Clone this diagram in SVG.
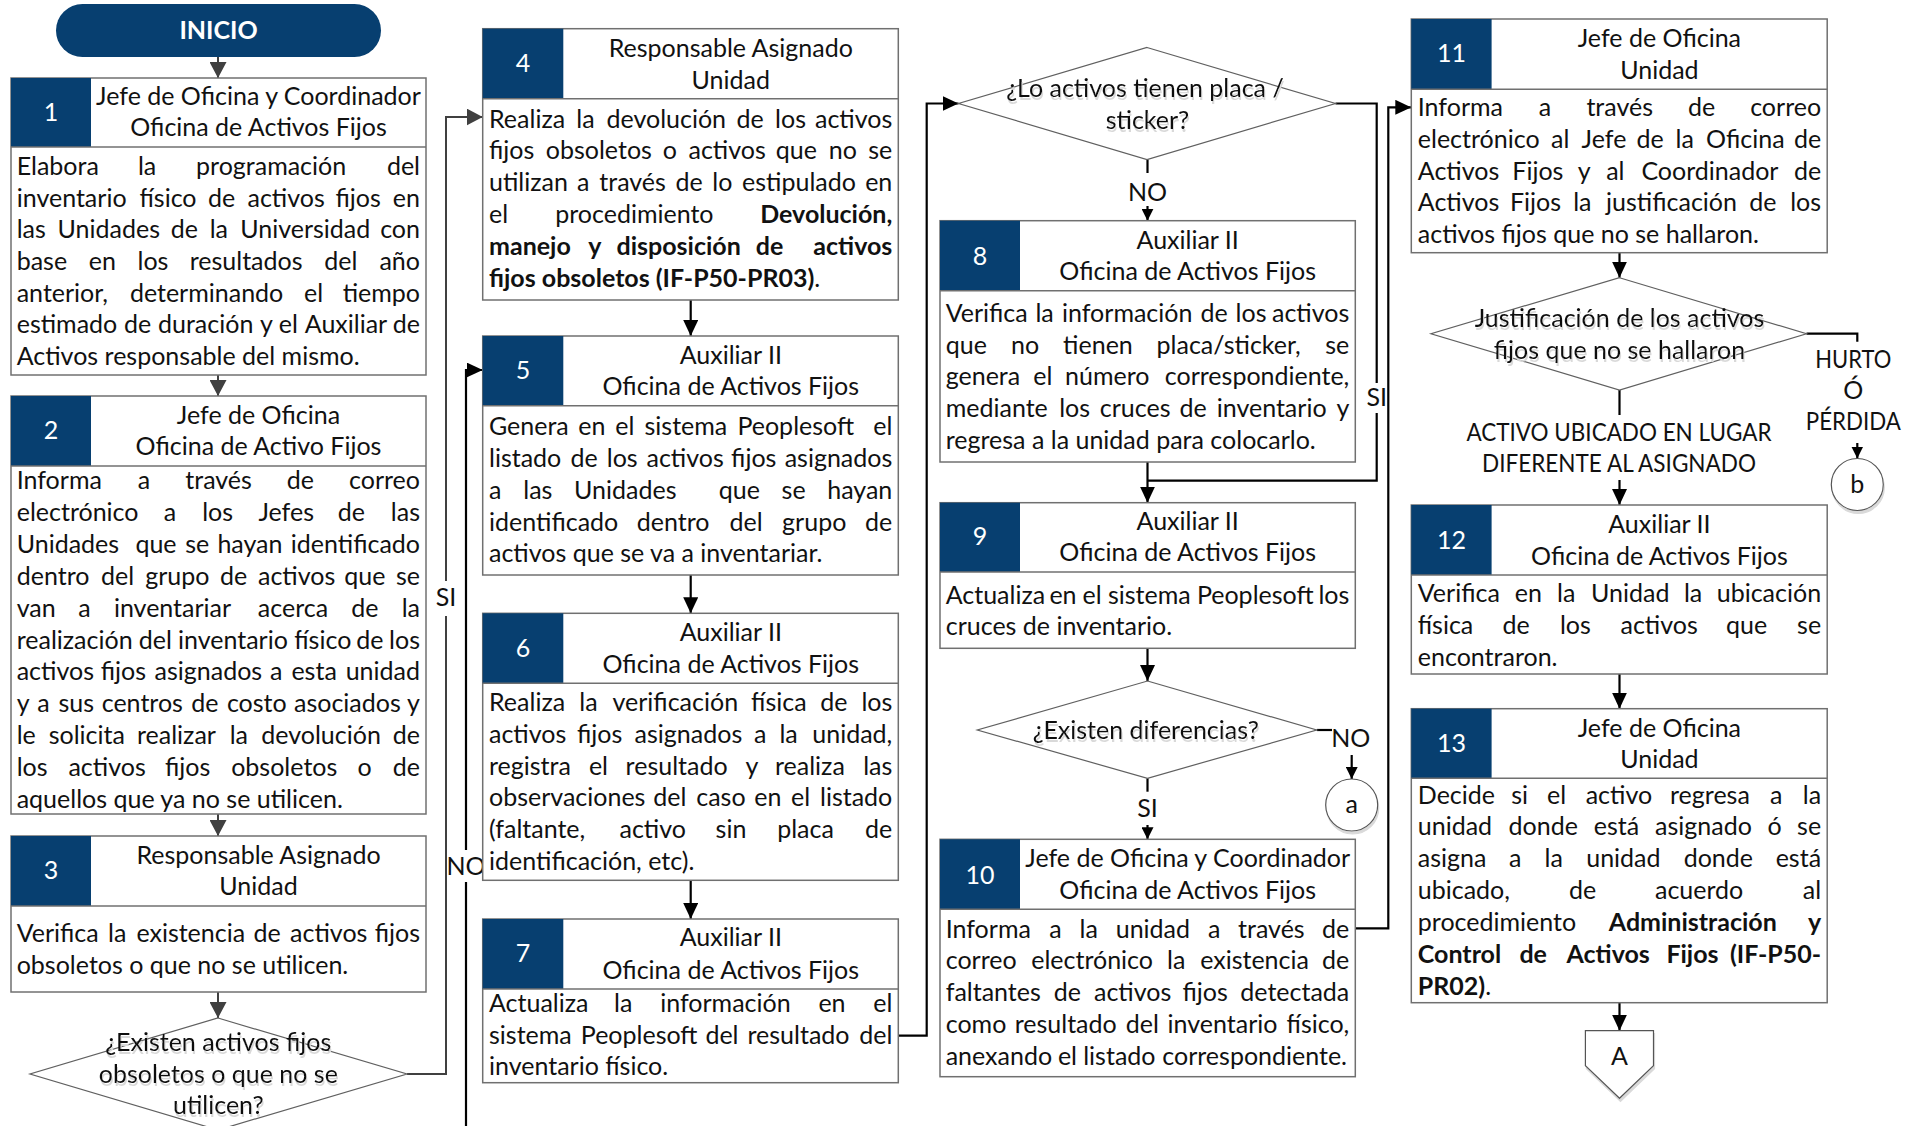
<svg xmlns="http://www.w3.org/2000/svg" width="1921" height="1126" viewBox="0 0 1921 1126">
<defs>
<style>
.bx{fill:#fff;stroke:#707070;stroke-width:1.5}
.nc{fill:#073f70}
.dv{stroke:#707070;stroke-width:1.5;fill:none}
.dm{fill:#fff;stroke:#606060;stroke-width:1.2}
.t{font-family:Lato,"Liberation Sans",sans-serif;font-size:25px;fill:#111}
.h{text-anchor:middle}
.n{fill:#fff;text-anchor:middle}
.e{text-anchor:end}
.bd{font-weight:bold}
.cn{fill:none;stroke:#000;stroke-width:2.2}
.cg{fill:none;stroke:#404040;stroke-width:2}
</style>
<marker id="ab" viewBox="0 0 10 10" refX="10" refY="5" markerWidth="16" markerHeight="15" markerUnits="userSpaceOnUse" orient="auto" preserveAspectRatio="none"><path d="M0,0L10,5L0,10z" fill="#000"/></marker>
<marker id="as" viewBox="0 0 10 10" refX="10" refY="5" markerWidth="12" markerHeight="12" markerUnits="userSpaceOnUse" orient="auto" preserveAspectRatio="none"><path d="M0,0L10,5L0,10z" fill="#000"/></marker>
<marker id="ag" viewBox="0 0 10 10" refX="10" refY="5" markerWidth="16" markerHeight="17" markerUnits="userSpaceOnUse" orient="auto" preserveAspectRatio="none"><path d="M0,0L10,5L0,10z" fill="#404040"/></marker>
<filter id="sh" x="-10%" y="-20%" width="120%" height="160%"><feOffset in="SourceAlpha" dx="1" dy="3" result="o"/><feFlood flood-color="#d9d9d9"/><feComposite in2="o" operator="in" result="s"/><feMerge><feMergeNode in="s"/><feMergeNode in="SourceGraphic"/></feMerge></filter>
</defs>
<rect width="1921" height="1126" fill="#fff"/>

<g id="connectors">
<path class="cg" d="M218,57V78" marker-end="url(#ag)"/>
<path class="cg" d="M218,375V396" marker-end="url(#ag)"/>
<path class="cg" d="M218,814V836" marker-end="url(#ag)"/>
<path class="cg" d="M218,992V1018" marker-end="url(#ag)"/>
<path class="cg" d="M407,1074H446V616"/>
<path class="cg" d="M446,581V117H482.7" marker-end="url(#ag)"/>
<path class="cn" d="M466,1126V882"/>
<path class="cn" d="M466,850V370H482.7" marker-end="url(#ab)"/>
<path class="cn" d="M690.7,300V336" marker-end="url(#ab)"/>
<path class="cn" d="M690.7,575V613.3" marker-end="url(#ab)"/>
<path class="cn" d="M690.7,880.3V919" marker-end="url(#ab)"/>
<path class="cn" d="M898.3,1035.7H926.7V103.5H958.5" marker-end="url(#ab)"/>
<path class="cn" d="M1147.5,159.5V173"/>
<path class="cn" d="M1147.5,206V220.7" marker-end="url(#as)"/>
<path class="cn" d="M1335.5,103.5H1376.7V383"/>
<path class="cn" d="M1376.7,413V480.7H1147.5"/>
<path class="cn" d="M1147.5,462V502.7" marker-end="url(#ab)"/>
<path class="cn" d="M1147.5,648.3V681" marker-end="url(#ab)"/>
<path class="cn" d="M1316.7,730H1332"/>
<path class="cn" d="M1351.7,755V779" marker-end="url(#as)"/>
<path class="cn" d="M1147.5,778.3V791.7"/>
<path class="cn" d="M1147.5,825V839.3" marker-end="url(#as)"/>
<path class="cn" d="M1355.3,928.3H1388.3V107.3H1411.3" marker-end="url(#ab)"/>
<path class="cn" d="M1619.5,252.7V277.7" marker-end="url(#ab)"/>
<path class="cn" d="M1806.5,333.7H1857.3V341.7"/>
<path class="cn" d="M1857.3,443V458.5" marker-end="url(#as)"/>
<path class="cn" d="M1619.5,390V415"/>
<path class="cn" d="M1619.5,480V505" marker-end="url(#ab)"/>
<path class="cn" d="M1619.5,674V708.7" marker-end="url(#ab)"/>
<path class="cn" d="M1619.5,1002.7V1030.7" marker-end="url(#ab)"/>
<g id="labels" class="t">
<text class="h" x="446" y="606">SI</text>
<text class="h" x="466" y="875">NO</text>
<text class="h" x="1147.5" y="200.5">NO</text>
<text class="h" x="1376.7" y="406">SI</text>
<text class="h" x="1350.8" y="747">NO</text>
<text class="h" x="1147.5" y="817">SI</text>
<text class="h" x="1853.3" y="367.5" textLength="76" lengthAdjust="spacingAndGlyphs">HURTO</text>
<text class="h" x="1853.3" y="398.5">Ó</text>
<text class="h" x="1853.3" y="430" textLength="95" lengthAdjust="spacingAndGlyphs">PÉRDIDA</text>
<text class="h" x="1619" y="440.5" textLength="305" lengthAdjust="spacingAndGlyphs">ACTIVO UBICADO EN LUGAR</text>
<text class="h" x="1619" y="471.5" textLength="274" lengthAdjust="spacingAndGlyphs">DIFERENTE AL ASIGNADO</text>
</g>
</g>

<g id="inicio">
<rect x="56" y="4" width="325" height="53" rx="26.5" fill="#073f70"/>
<text class="t n bd" x="218.5" y="39">INICIO</text>
</g>

<g id="n1" class="t">
<rect class="bx" x="11" y="78" width="415" height="297"/>
<rect class="nc" x="11" y="78" width="80" height="69"/>
<path class="dv" d="M11,147H426"/>
<text class="n" x="51" y="121">1</text>
<text class="h" x="258.5" y="105">Jefe de Oficina y Coordinador</text>
<text class="h" x="258.5" y="136">Oficina de Activos Fijos</text>
<text y="175"><tspan x="16.7">Elabora</tspan><tspan x="137.9">la</tspan><tspan x="196.1">programación</tspan><tspan class="e" x="420">del</tspan></text>
<text y="206.7"><tspan x="16.7">inventario</tspan><tspan x="139.5">físico</tspan><tspan x="207.9">de</tspan><tspan x="247.5">activos</tspan><tspan x="335.4">fijos</tspan><tspan class="e" x="420">en</tspan></text>
<text y="238.3"><tspan x="16.7">las</tspan><tspan x="57.6">Unidades</tspan><tspan x="170.8">de</tspan><tspan x="209.7">la</tspan><tspan x="240.2">Universidad</tspan><tspan class="e" x="420">con</tspan></text>
<text y="270"><tspan x="16.7">base</tspan><tspan x="88.7">en</tspan><tspan x="137.5">los</tspan><tspan x="189.7">resultados</tspan><tspan x="324.3">del</tspan><tspan class="e" x="420">año</tspan></text>
<text y="301.7"><tspan x="16.7">anterior,</tspan><tspan x="129.9">determinando</tspan><tspan x="304.1">el</tspan><tspan class="e" x="420">tiempo</tspan></text>
<text y="333.3"><tspan x="16.7">estimado</tspan><tspan x="124">de</tspan><tspan x="158">duración</tspan><tspan x="260">y</tspan><tspan x="278.8">el</tspan><tspan x="304.8">Auxiliar</tspan><tspan class="e" x="420">de</tspan></text>
<text x="16.7" y="365">Activos responsable del mismo.</text>
</g>

<g id="n2" class="t">
<rect class="bx" x="11" y="396" width="415" height="418"/>
<rect class="nc" x="11" y="396" width="80" height="70"/>
<path class="dv" d="M11,466H426"/>
<text class="n" x="51" y="438.5">2</text>
<text class="h" x="258.5" y="423.5">Jefe de Oficina</text>
<text class="h" x="258.5" y="455.2">Oficina de Activo Fijos</text>
<text y="489.2"><tspan x="16.7">Informa</tspan><tspan x="137.7">a</tspan><tspan x="185.3">través</tspan><tspan x="286.8">de</tspan><tspan class="e" x="420">correo</tspan></text>
<text y="521"><tspan x="16.7">electrónico</tspan><tspan x="163.8">a</tspan><tspan x="202.2">los</tspan><tspan x="258.4">Jefes</tspan><tspan x="337.7">de</tspan><tspan class="e" x="420">las</tspan></text>
<text y="552.9"><tspan x="16.7">Unidades</tspan><tspan x="135.4">que</tspan><tspan x="185.2">se</tspan><tspan x="217.4">hayan</tspan><tspan class="e" x="420">identificado</tspan></text>
<text y="584.8"><tspan x="16.7">dentro</tspan><tspan x="101">del</tspan><tspan x="145.2">grupo</tspan><tspan x="219.9">de</tspan><tspan x="258">activos</tspan><tspan x="344.3">que</tspan><tspan class="e" x="420">se</tspan></text>
<text y="616.6"><tspan x="16.7">van</tspan><tspan x="78.3">a</tspan><tspan x="113.9">inventariar</tspan><tspan x="257.8">acerca</tspan><tspan x="351.2">de</tspan><tspan class="e" x="420">la</tspan></text>
<text y="648.5"><tspan x="16.7">realización</tspan><tspan x="138.7">del</tspan><tspan x="178">inventario</tspan><tspan x="294.3">físico</tspan><tspan x="356.3">de</tspan><tspan class="e" x="420">los</tspan></text>
<text y="680.3"><tspan x="16.7">activos</tspan><tspan x="100.8">fijos</tspan><tspan x="154.5">asignados</tspan><tspan x="270">a</tspan><tspan x="291.4">esta</tspan><tspan class="e" x="420">unidad</tspan></text>
<text y="712.2"><tspan x="16.7">y</tspan><tspan x="37.2">a</tspan><tspan x="58.4">sus</tspan><tspan x="101.7">centros</tspan><tspan x="191.2">de</tspan><tspan x="226.9">costo</tspan><tspan x="294">asociados</tspan><tspan class="e" x="420">y</tspan></text>
<text y="744"><tspan x="16.7">le</tspan><tspan x="48.7">solicita</tspan><tspan x="137">realizar</tspan><tspan x="229.7">la</tspan><tspan x="261.3">devolución</tspan><tspan class="e" x="420">de</tspan></text>
<text y="775.9"><tspan x="16.7">los</tspan><tspan x="68.4">activos</tspan><tspan x="165">fijos</tspan><tspan x="231.2">obsoletos</tspan><tspan x="357.5">o</tspan><tspan class="e" x="420">de</tspan></text>
<text x="16.7" y="807.7">aquellos que ya no se utilicen.</text>
</g>

<g id="n3" class="t">
<rect class="bx" x="11" y="836" width="415" height="156"/>
<rect class="nc" x="11" y="836" width="80" height="70"/>
<path class="dv" d="M11,906H426"/>
<text class="n" x="51" y="878.5">3</text>
<text class="h" x="258.5" y="863.5">Responsable Asignado</text>
<text class="h" x="258.5" y="895.2">Unidad</text>
<text y="941.8"><tspan x="16.7">Verifica</tspan><tspan x="108.1">la</tspan><tspan x="136.4">existencia</tspan><tspan x="253.4">de</tspan><tspan x="290.1">activos</tspan><tspan class="e" x="420">fijos</tspan></text>
<text x="16.7" y="973.5">obsoletos o que no se utilicen.</text>
</g>

<g id="d1">
<path class="dm" d="M218,1018L407,1074L218,1130L30,1074Z"/>
<g class="t" filter="url(#sh)">
<text class="h" x="218.3" y="1050.5">¿Existen activos fijos</text>
<text class="h" x="218.3" y="1082.5">obsoletos o que no se</text>
<text class="h" x="218.3" y="1113.5">utilicen?</text>
</g>
</g>

<g id="n4" class="t">
<rect class="bx" x="482.7" y="28.7" width="415.6" height="271.3"/>
<rect class="nc" x="482.7" y="28.7" width="80.6" height="70"/>
<path class="dv" d="M482.7,98.7H898.3"/>
<text class="n" x="523" y="71.8">4</text>
<text class="h" x="730.8" y="56.8">Responsable Asignado</text>
<text class="h" x="730.8" y="88.5">Unidad</text>
<text y="127.5"><tspan x="489">Realiza</tspan><tspan x="576.3">la</tspan><tspan x="606.5">devolución</tspan><tspan x="736.5">de</tspan><tspan x="775.1">los</tspan><tspan class="e" x="892.3">activos</tspan></text>
<text y="159.4"><tspan x="489">fijos</tspan><tspan x="545.8">obsoletos</tspan><tspan x="662.7">o</tspan><tspan x="688.5">activos</tspan><tspan x="775.8">que</tspan><tspan x="828.8">no</tspan><tspan class="e" x="892.3">se</tspan></text>
<text y="191.3"><tspan x="489">utilizan</tspan><tspan x="577">a</tspan><tspan x="599.3">través</tspan><tspan x="675.5">de</tspan><tspan x="712.3">lo</tspan><tspan x="742">estipulado</tspan><tspan class="e" x="892.3">en</tspan></text>
<text y="223.2"><tspan x="489">el</tspan><tspan x="555.2">procedimiento</tspan><tspan class="e bd" x="892.3">Devolución,</tspan></text>
<text class="bd" y="255.1"><tspan x="489">manejo</tspan><tspan x="588.2">y</tspan><tspan x="616.5">disposición</tspan><tspan x="755.7">de</tspan><tspan class="e" x="892.3">activos</tspan></text>
<text x="489" y="287"><tspan class="bd">fijos obsoletos (IF-P50-PR03)</tspan>.</text>
</g>

<g id="n5" class="t">
<rect class="bx" x="482.7" y="336" width="415.6" height="239"/>
<rect class="nc" x="482.7" y="336" width="80.6" height="69.7"/>
<path class="dv" d="M482.7,405.7H898.3"/>
<text class="n" x="523" y="378.5">5</text>
<text class="h" x="730.8" y="363.5">Auxiliar II</text>
<text class="h" x="730.8" y="395.2">Oficina de Activos Fijos</text>
<text y="435.2"><tspan x="489">Genera</tspan><tspan x="578.2">en</tspan><tspan x="615.3">el</tspan><tspan x="644.5">sistema</tspan><tspan x="737.4">Peoplesoft</tspan><tspan class="e" x="892.3">el</tspan></text>
<text y="467"><tspan x="489">listado</tspan><tspan x="570.4">de</tspan><tspan x="606.8">los</tspan><tspan x="646.5">activos</tspan><tspan x="731.1">fijos</tspan><tspan class="e" x="892.3">asignados</tspan></text>
<text y="498.8"><tspan x="489">a</tspan><tspan x="523.3">las</tspan><tspan x="574.1">Unidades</tspan><tspan x="718.8">que</tspan><tspan x="781.6">se</tspan><tspan class="e" x="892.3">hayan</tspan></text>
<text y="530.6"><tspan x="489">identificado</tspan><tspan x="636.8">dentro</tspan><tspan x="729.5">del</tspan><tspan x="782.1">grupo</tspan><tspan class="e" x="892.3">de</tspan></text>
<text x="489" y="562.4">activos que se va a inventariar.</text>
</g>

<g id="n6" class="t">
<rect class="bx" x="482.7" y="613.3" width="415.6" height="267"/>
<rect class="nc" x="482.7" y="613.3" width="80.6" height="70"/>
<path class="dv" d="M482.7,683.3H898.3"/>
<text class="n" x="523" y="656.8">6</text>
<text class="h" x="730.8" y="640.8">Auxiliar II</text>
<text class="h" x="730.8" y="672.5">Oficina de Activos Fijos</text>
<text y="710.8"><tspan x="489">Realiza</tspan><tspan x="579.3">la</tspan><tspan x="612.5">verificación</tspan><tspan x="751.1">física</tspan><tspan x="820.2">de</tspan><tspan class="e" x="892.3">los</tspan></text>
<text y="742.6"><tspan x="489">activos</tspan><tspan x="577">fijos</tspan><tspan x="634.6">asignados</tspan><tspan x="754.1">a</tspan><tspan x="779.4">la</tspan><tspan class="e" x="892.3">unidad,</tspan></text>
<text y="774.5"><tspan x="489">registra</tspan><tspan x="588.9">el</tspan><tspan x="625.6">resultado</tspan><tspan x="745.6">y</tspan><tspan x="775">realiza</tspan><tspan class="e" x="892.3">las</tspan></text>
<text y="806.3"><tspan x="489">observaciones</tspan><tspan x="653.3">del</tspan><tspan x="696.2">caso</tspan><tspan x="754.2">en</tspan><tspan x="791">el</tspan><tspan class="e" x="892.3">listado</tspan></text>
<text y="838.2"><tspan x="489">(faltante,</tspan><tspan x="619.5">activo</tspan><tspan x="715.6">sin</tspan><tspan x="777.2">placa</tspan><tspan class="e" x="892.3">de</tspan></text>
<text x="489" y="870">identificación, etc).</text>
</g>

<g id="n7" class="t">
<rect class="bx" x="482.7" y="919" width="415.6" height="163.7"/>
<rect class="nc" x="482.7" y="919" width="80.6" height="70"/>
<path class="dv" d="M482.7,989H898.3"/>
<text class="n" x="523" y="961.8">7</text>
<text class="h" x="730.8" y="946.2">Auxiliar II</text>
<text class="h" x="730.8" y="978.5">Oficina de Activos Fijos</text>
<text y="1011.8"><tspan x="489">Actualiza</tspan><tspan x="614.1">la</tspan><tspan x="660.2">información</tspan><tspan x="818.4">en</tspan><tspan class="e" x="892.3">el</tspan></text>
<text y="1043.5"><tspan x="489">sistema</tspan><tspan x="580.8">Peoplesoft</tspan><tspan x="705.4">del</tspan><tspan x="747.5">resultado</tspan><tspan class="e" x="892.3">del</tspan></text>
<text x="489" y="1075.2">inventario físico.</text>
</g>

<g id="d2">
<path class="dm" d="M1147,47.5L1335.5,103.5L1147,159.5L958.5,103.5Z"/>
<g class="t" filter="url(#sh)">
<text class="h" x="1145" y="96.5">¿Lo activos tienen placa /</text>
<text class="h" x="1147.5" y="128.5">sticker?</text>
</g>
</g>

<g id="n8" class="t">
<rect class="bx" x="940" y="220.7" width="415.3" height="241.3"/>
<rect class="nc" x="940" y="220.7" width="80" height="70"/>
<path class="dv" d="M940,290.7H1355.3"/>
<text class="n" x="980" y="265.2">8</text>
<text class="h" x="1187.7" y="248.5">Auxiliar II</text>
<text class="h" x="1187.7" y="280.2">Oficina de Activos Fijos</text>
<text y="321.8"><tspan x="945.7">Verifica</tspan><tspan x="1035.4">la</tspan><tspan x="1062">información</tspan><tspan x="1200.6">de</tspan><tspan x="1235.6">los</tspan><tspan class="e" x="1349.3">activos</tspan></text>
<text y="353.5"><tspan x="945.7">que</tspan><tspan x="1011">no</tspan><tspan x="1063.1">tienen</tspan><tspan x="1156.6">placa/sticker,</tspan><tspan class="e" x="1349.3">se</tspan></text>
<text y="385.2"><tspan x="945.7">genera</tspan><tspan x="1033.2">el</tspan><tspan x="1065">número</tspan><tspan class="e" x="1349.3">correspondiente,</tspan></text>
<text y="416.8"><tspan x="945.7">mediante</tspan><tspan x="1059.2">los</tspan><tspan x="1099.8">cruces</tspan><tspan x="1179.4">de</tspan><tspan x="1216.7">inventario</tspan><tspan class="e" x="1349.3">y</tspan></text>
<text x="945.7" y="448.5">regresa a la unidad para colocarlo.</text>
</g>

<g id="n9" class="t">
<rect class="bx" x="940" y="502.7" width="415.3" height="145.6"/>
<rect class="nc" x="940" y="502.7" width="80" height="69.3"/>
<path class="dv" d="M940,572H1355.3"/>
<text class="n" x="980" y="545.2">9</text>
<text class="h" x="1187.7" y="529.5">Auxiliar II</text>
<text class="h" x="1187.7" y="561.2">Oficina de Activos Fijos</text>
<text y="603.5"><tspan x="945.7">Actualiza</tspan><tspan x="1049.4">en</tspan><tspan x="1082.6">el</tspan><tspan x="1107.9">sistema</tspan><tspan x="1196.9">Peoplesoft</tspan><tspan class="e" x="1349.3">los</tspan></text>
<text x="945.7" y="635.3">cruces de inventario.</text>
</g>

<g id="d3">
<path class="dm" d="M1147.5,681L1316.7,730L1147.5,778.3L977.3,730Z"/>
<g class="t" filter="url(#sh)">
<text class="h" x="1145.8" y="739">¿Existen diferencias?</text>
</g>
</g>

<g id="ca">
<circle cx="1351.7" cy="805" r="26" fill="#fff" stroke="#555" stroke-width="1.2" filter="url(#sh)"/>
<text class="t h" x="1351.7" y="813">a</text>
</g>

<g id="n10" class="t">
<rect class="bx" x="940" y="839.3" width="415.3" height="237.4"/>
<rect class="nc" x="940" y="839.3" width="80" height="70"/>
<path class="dv" d="M940,909.3H1355.3"/>
<text class="n" x="980" y="883.5">10</text>
<text class="h" x="1187.7" y="866.8">Jefe de Oficina y Coordinador</text>
<text class="h" x="1187.7" y="899.2">Oficina de Activos Fijos</text>
<text y="937.5"><tspan x="945.7">Informa</tspan><tspan x="1049.3">a</tspan><tspan x="1079.5">la</tspan><tspan x="1115.7">unidad</tspan><tspan x="1207.9">a</tspan><tspan x="1238.1">través</tspan><tspan class="e" x="1349.3">de</tspan></text>
<text y="969.3"><tspan x="945.7">correo</tspan><tspan x="1031.2">electrónico</tspan><tspan x="1167">la</tspan><tspan x="1200.2">existencia</tspan><tspan class="e" x="1349.3">de</tspan></text>
<text y="1001.2"><tspan x="945.7">faltantes</tspan><tspan x="1053.8">de</tspan><tspan x="1094">activos</tspan><tspan x="1182.4">fijos</tspan><tspan class="e" x="1349.3">detectada</tspan></text>
<text y="1033"><tspan x="945.7">como</tspan><tspan x="1014.7">resultado</tspan><tspan x="1125.8">del</tspan><tspan x="1167.6">inventario</tspan><tspan class="e" x="1349.3">físico,</tspan></text>
<text y="1064.9"><tspan x="945.7">anexando</tspan><tspan x="1057.9">el</tspan><tspan x="1083.2">listado</tspan><tspan class="e" x="1347">correspondiente.</tspan></text>
</g>

<g id="n11" class="t">
<rect class="bx" x="1411.3" y="19" width="415.9" height="233.7"/>
<rect class="nc" x="1411.3" y="19" width="80.3" height="70.3"/>
<path class="dv" d="M1411.3,89.3H1827.2"/>
<text class="n" x="1451.5" y="61.8">11</text>
<text class="h" x="1659.4" y="46.8">Jefe de Oficina</text>
<text class="h" x="1659.4" y="78.5">Unidad</text>
<text y="115.8"><tspan x="1417.8">Informa</tspan><tspan x="1538.8">a</tspan><tspan x="1586.4">través</tspan><tspan x="1687.9">de</tspan><tspan class="e" x="1821.1">correo</tspan></text>
<text y="147.6"><tspan x="1417.8">electrónico</tspan><tspan x="1551">al</tspan><tspan x="1581.6">Jefe</tspan><tspan x="1636.5">de</tspan><tspan x="1675.5">la</tspan><tspan x="1706.1">Oficina</tspan><tspan class="e" x="1821.1">de</tspan></text>
<text y="179.5"><tspan x="1417.8">Activos</tspan><tspan x="1512.3">Fijos</tspan><tspan x="1577.8">y</tspan><tspan x="1606.2">al</tspan><tspan x="1641.4">Coordinador</tspan><tspan class="e" x="1821.1">de</tspan></text>
<text y="211.3"><tspan x="1417.8">Activos</tspan><tspan x="1510">Fijos</tspan><tspan x="1573.2">la</tspan><tspan x="1606.1">justificación</tspan><tspan x="1749.3">de</tspan><tspan class="e" x="1821.1">los</tspan></text>
<text x="1417.8" y="243.2">activos fijos que no se hallaron.</text>
</g>

<g id="d4">
<path class="dm" d="M1619.5,277.7L1806.5,333.7L1619.5,390L1431,333.7Z"/>
<g class="t" filter="url(#sh)">
<text class="h" x="1619.5" y="326.5">Justificación de los activos</text>
<text class="h" x="1619.5" y="358.5">fijos que no se hallaron</text>
</g>
</g>

<g id="cb">
<circle cx="1857.3" cy="484.5" r="26" fill="#fff" stroke="#555" stroke-width="1.2" filter="url(#sh)"/>
<text class="t h" x="1857.3" y="493">b</text>
</g>

<g id="n12" class="t">
<rect class="bx" x="1411.3" y="505" width="415.9" height="169"/>
<rect class="nc" x="1411.3" y="505" width="80.3" height="70"/>
<path class="dv" d="M1411.3,575H1827.2"/>
<text class="n" x="1451.5" y="548.5">12</text>
<text class="h" x="1659.4" y="532.8">Auxiliar II</text>
<text class="h" x="1659.4" y="564.5">Oficina de Activos Fijos</text>
<text y="601.8"><tspan x="1417.8">Verifica</tspan><tspan x="1514.8">en</tspan><tspan x="1557.1">la</tspan><tspan x="1591">Unidad</tspan><tspan x="1683.9">la</tspan><tspan class="e" x="1821.1">ubicación</tspan></text>
<text y="633.7"><tspan x="1417.8">física</tspan><tspan x="1502.6">de</tspan><tspan x="1559.9">los</tspan><tspan x="1620.5">activos</tspan><tspan x="1726">que</tspan><tspan class="e" x="1821.1">se</tspan></text>
<text x="1417.8" y="665.5">encontraron.</text>
</g>

<g id="n13" class="t">
<rect class="bx" x="1411.3" y="708.7" width="415.9" height="294"/>
<rect class="nc" x="1411.3" y="708.7" width="80.3" height="69.6"/>
<path class="dv" d="M1411.3,778.3H1827.2"/>
<text class="n" x="1451.5" y="751.8">13</text>
<text class="h" x="1659.4" y="736.8">Jefe de Oficina</text>
<text class="h" x="1659.4" y="767.8">Unidad</text>
<text y="803.5"><tspan x="1417.8">Decide</tspan><tspan x="1511.3">si</tspan><tspan x="1547.1">el</tspan><tspan x="1585.7">activo</tspan><tspan x="1670">regresa</tspan><tspan x="1770">a</tspan><tspan class="e" x="1821.1">la</tspan></text>
<text y="835.4"><tspan x="1417.8">unidad</tspan><tspan x="1508.5">donde</tspan><tspan x="1593.7">está</tspan><tspan x="1655">asignado</tspan><tspan x="1767.5">ó</tspan><tspan class="e" x="1821.1">se</tspan></text>
<text y="867.4"><tspan x="1417.8">asigna</tspan><tspan x="1509.1">a</tspan><tspan x="1544.6">la</tspan><tspan x="1586.2">unidad</tspan><tspan x="1683.7">donde</tspan><tspan class="e" x="1821.1">está</tspan></text>
<text y="899.3"><tspan x="1417.8">ubicado,</tspan><tspan x="1569.1">de</tspan><tspan x="1655">acuerdo</tspan><tspan class="e" x="1821.1">al</tspan></text>
<text y="931.3"><tspan x="1417.8">procedimiento</tspan><tspan class="bd" x="1608.8">Administración</tspan><tspan class="e bd" x="1821.1">y</tspan></text>
<text class="bd" y="963.2"><tspan x="1417.8">Control</tspan><tspan x="1519.4">de</tspan><tspan x="1566.5">Activos</tspan><tspan x="1666.4">Fijos</tspan><tspan class="e" x="1821.1">(IF-P50-</tspan></text>
<text x="1417.8" y="995.2"><tspan class="bd">PR02)</tspan>.</text>
</g>

<g id="offA">
<path d="M1585.4,1030.7H1653.5V1065.7L1619.5,1098.3L1585.4,1065.7Z" fill="#fff" stroke="#555" stroke-width="1.2" filter="url(#sh)"/>
<text class="t h" x="1619.5" y="1065">A</text>
</g>
</svg>
